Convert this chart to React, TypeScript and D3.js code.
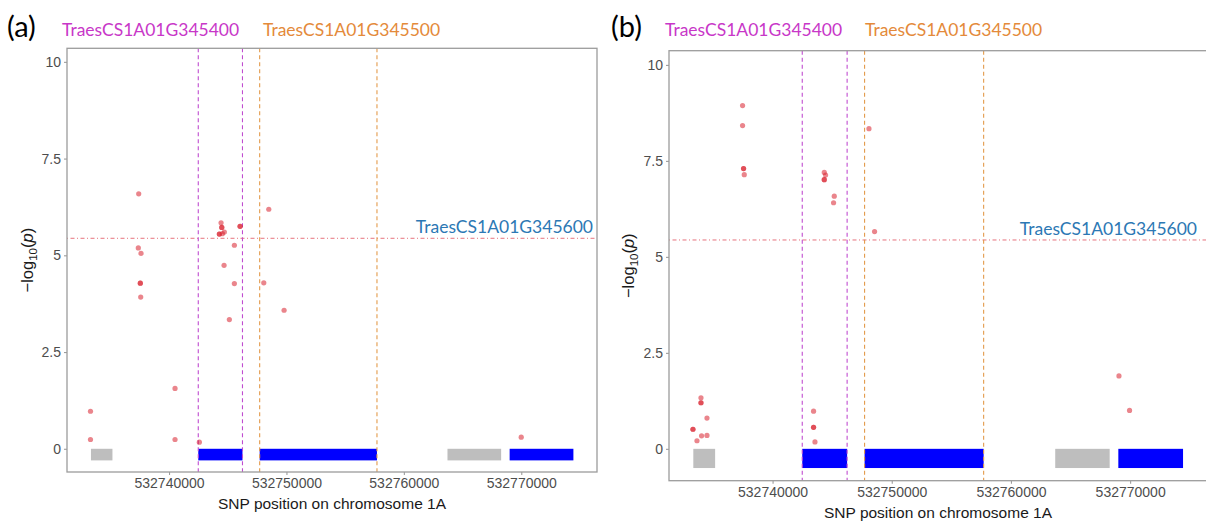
import React, { useEffect, useRef } from "react";
import * as d3 from "d3";

// Gene models on chromosome 1A (bp); labelled ones are drawn in blue
const geneStart = [532733350, 532742490, 532747720, 532763715, 532769010];
const geneEnd = [532735180, 532746255, 532757710, 532768285, 532774440];
const geneLabel = ["", "TraesCS1A01G345400", "TraesCS1A01G345500", "", "TraesCS1A01G345600"];

const xDomain = [532731310, 532776450];
const xTicks = [532740000, 532750000, 532760000, 532770000];
const yTicks = [0, 2.5, 5, 7.5, 10];
const threshold = 5.44;

// SNP associations, trait (a)
const snpPosA = [
  532733310, 532733310, 532737418, 532737384, 532737614, 532737554, 532737554, 532737588,
  532740511, 532740511, 532742582, 532744431, 532744491, 532744491, 532744712, 532744286,
  532744286, 532744542, 532746050, 532746050, 532745564, 532744687, 532745564, 532745138,
  532748496, 532748070, 532749800, 532769996,
];
const snpLogPA = [
  0.97, 0.24, 6.59, 5.19, 5.05, 4.28, 4.28, 3.92,
  1.56, 0.24, 0.17, 5.84, 5.72, 5.72, 5.6, 5.55,
  5.55, 5.56, 5.75, 5.75, 5.26, 4.74, 4.27, 3.34,
  6.19, 4.29, 3.58, 0.3,
];

// SNP associations, trait (b)
const snpPosB = [
  532737483, 532737483, 532737567, 532737567, 532737626, 532744338, 532744447, 532744338,
  532744338, 532745177, 532745118, 532748088, 532748558, 532769063, 532769952, 532733993,
  532733993, 532733993, 532734496, 532733321, 532733321, 532733657, 532734043, 532734496,
  532743440, 532743440, 532743440, 532743557,
];
const snpLogPB = [
  8.94, 8.42, 7.3, 7.3, 7.14, 7.2, 7.13, 7.01,
  7.01, 6.58, 6.41, 8.34, 5.66, 1.9, 1.0, 1.33,
  1.2, 1.2, 0.8, 0.51, 0.51, 0.21, 0.34, 0.35,
  0.98, 0.56, 0.56, 0.18,
];

const LABEL_FONT = "Lato, 'Liberation Sans', sans-serif";
const AXIS_FONT = "'Liberation Sans', Arial, sans-serif";
const PURPLE_TEXT = "#c837c8";
const ORANGE_TEXT = "#e48a3a";
const BLUE_TEXT = "#2c78b4";
const PURPLE_LINE = "#c04cd0";
const ORANGE_LINE = "#e39a4a";

interface PanelCfg {
  id: string;
  tag: string;
  left: number;
  right: number;
  top: number;
  bottom: number;
  yDomain: [number, number];
  boxBottom: number;
  tagX: number;
  label1X: number;
  label2X: number;
  blueRight: number;
  yTitleX: number;
}

const panels: PanelCfg[] = [
  {
    id: "a", tag: "(a)", left: 67, right: 597, top: 48.3, bottom: 472,
    yDomain: [-0.6, 10.35], boxBottom: -0.3,
    tagX: 7, label1X: 62, label2X: 263, blueRight: 593, yTitleX: 33,
  },
  {
    id: "b", tag: "(b)", left: 669, right: 1207, top: 50.7, bottom: 480.7,
    yDomain: [-0.83, 10.37], boxBottom: -0.5,
    tagX: 611, label1X: 665, label2X: 865, blueRight: 1197, yTitleX: 634,
  },
];

function drawPanel(
  svg: d3.Selection<SVGSVGElement, unknown, null, undefined>,
  cfg: PanelCfg,
  pos: number[],
  vals: number[]
) {
  const x = d3.scaleLinear().domain(xDomain).range([cfg.left, cfg.right]);
  const y = d3.scaleLinear().domain(cfg.yDomain).range([cfg.bottom, cfg.top]);
  const g = svg.append("g");

  const clipId = `clip-${cfg.id}`;
  g.append("clipPath").attr("id", clipId).append("rect")
    .attr("x", cfg.left).attr("y", cfg.top)
    .attr("width", cfg.right - cfg.left).attr("height", cfg.bottom - cfg.top);
  const plot = g.append("g").attr("clip-path", `url(#${clipId})`);

  // gene models
  const genes = d3.range(geneStart.length);
  plot.selectAll("rect.gene").data(genes).join("rect")
    .attr("class", "gene")
    .attr("x", (i) => x(geneStart[i]))
    .attr("width", (i) => x(geneEnd[i]) - x(geneStart[i]))
    .attr("y", y(0))
    .attr("height", y(cfg.boxBottom) - y(0))
    .attr("fill", (i) => (geneLabel[i] ? "#0000ff" : "#bebebe"));

  // significance threshold
  plot.append("line")
    .attr("x1", cfg.left).attr("x2", cfg.right)
    .attr("y1", y(threshold)).attr("y2", y(threshold))
    .attr("stroke", "#e0505e").attr("stroke-opacity", 0.9)
    .attr("stroke-width", 0.9).attr("stroke-dasharray", "1,2.5,4,2.5");

  // boundaries of the two candidate genes
  const bounds = [
    { v: geneStart[1], c: PURPLE_LINE },
    { v: geneEnd[1], c: PURPLE_LINE },
    { v: geneStart[2], c: ORANGE_LINE },
    { v: geneEnd[2], c: ORANGE_LINE },
  ];
  plot.selectAll("line.bound").data(bounds).join("line")
    .attr("class", "bound")
    .attr("x1", (d) => x(d.v)).attr("x2", (d) => x(d.v))
    .attr("y1", cfg.top).attr("y2", cfg.bottom)
    .attr("stroke", (d) => d.c).attr("stroke-width", 1.1)
    .attr("stroke-dasharray", "4,3");

  // SNPs
  plot.selectAll("circle.snp").data(d3.range(pos.length)).join("circle")
    .attr("class", "snp")
    .attr("cx", (i) => x(pos[i]))
    .attr("cy", (i) => y(vals[i]))
    .attr("r", 2.6)
    .attr("fill", "#d8202e")
    .attr("fill-opacity", 0.55);

  // panel border
  g.append("rect")
    .attr("x", cfg.left).attr("y", cfg.top)
    .attr("width", cfg.right - cfg.left).attr("height", cfg.bottom - cfg.top)
    .attr("fill", "none").attr("stroke", "#9c9c9c").attr("stroke-width", 1.3);

  // axes
  const xAxis = g.append("g")
    .attr("transform", `translate(0,${cfg.bottom})`)
    .call(d3.axisBottom(x).tickValues(xTicks).tickFormat(d3.format("d")).tickSize(3).tickPadding(3));
  const yAxis = g.append("g")
    .attr("transform", `translate(${cfg.left},0)`)
    .call(d3.axisLeft(y).tickValues(yTicks).tickFormat((d) => String(d)).tickSize(3).tickPadding(3));
  [xAxis, yAxis].forEach((ax) => {
    ax.select(".domain").remove();
    ax.selectAll(".tick line").attr("stroke", "#9c9c9c").attr("stroke-width", 1.1);
    ax.selectAll(".tick text")
      .attr("fill", "#4d4d4d")
      .style("font-family", AXIS_FONT)
      .style("font-size", "14px");
  });

  // axis titles
  g.append("text")
    .attr("x", (cfg.left + cfg.right) / 2)
    .attr("y", cfg.bottom + 37)
    .attr("text-anchor", "middle")
    .style("font-family", AXIS_FONT)
    .style("font-size", "15.5px")
    .attr("fill", "#1a1a1a")
    .text("SNP position on chromosome 1A");

  const yt = g.append("text")
    .attr("transform", `translate(${cfg.yTitleX},${(cfg.top + cfg.bottom) / 2}) rotate(-90)`)
    .attr("text-anchor", "middle")
    .style("font-family", AXIS_FONT)
    .style("font-size", "16.5px")
    .attr("fill", "#1a1a1a");
  yt.append("tspan").text("\u2212log");
  yt.append("tspan").attr("dy", 4).style("font-size", "11.5px").text("10");
  yt.append("tspan").attr("dy", -4).text("(");
  yt.append("tspan").style("font-style", "italic").text("p");
  yt.append("tspan").text(")");

  // panel tag and gene labels
  g.append("text")
    .attr("x", cfg.tagX).attr("y", 37)
    .style("font-family", LABEL_FONT).style("font-size", "29px")
    .attr("fill", "#000").text(cfg.tag);
  g.append("text")
    .attr("x", cfg.label1X).attr("y", 36)
    .style("font-family", LABEL_FONT).style("font-size", "17.5px")
    .attr("fill", PURPLE_TEXT).text(geneLabel[1]);
  g.append("text")
    .attr("x", cfg.label2X).attr("y", 36)
    .style("font-family", LABEL_FONT).style("font-size", "17.5px")
    .attr("fill", ORANGE_TEXT).text(geneLabel[2]);
  g.append("text")
    .attr("x", cfg.blueRight).attr("y", y(threshold) - 5)
    .attr("text-anchor", "end")
    .style("font-family", LABEL_FONT).style("font-size", "17.5px")
    .attr("fill", BLUE_TEXT).text(geneLabel[4]);
}

export default function App() {
  const ref = useRef<SVGSVGElement>(null);

  useEffect(() => {
    if (!ref.current) return;
    const svg = d3.select(ref.current);
    svg.selectAll("*").remove();
    drawPanel(svg, panels[0], snpPosA, snpLogPA);
    drawPanel(svg, panels[1], snpPosB, snpLogPB);
  }, []);

  return (
    <svg
      ref={ref}
      width={1206}
      height={525}
      style={{ position: "absolute", left: 0, top: 0, background: "#fff" }}
    />
  );
}
